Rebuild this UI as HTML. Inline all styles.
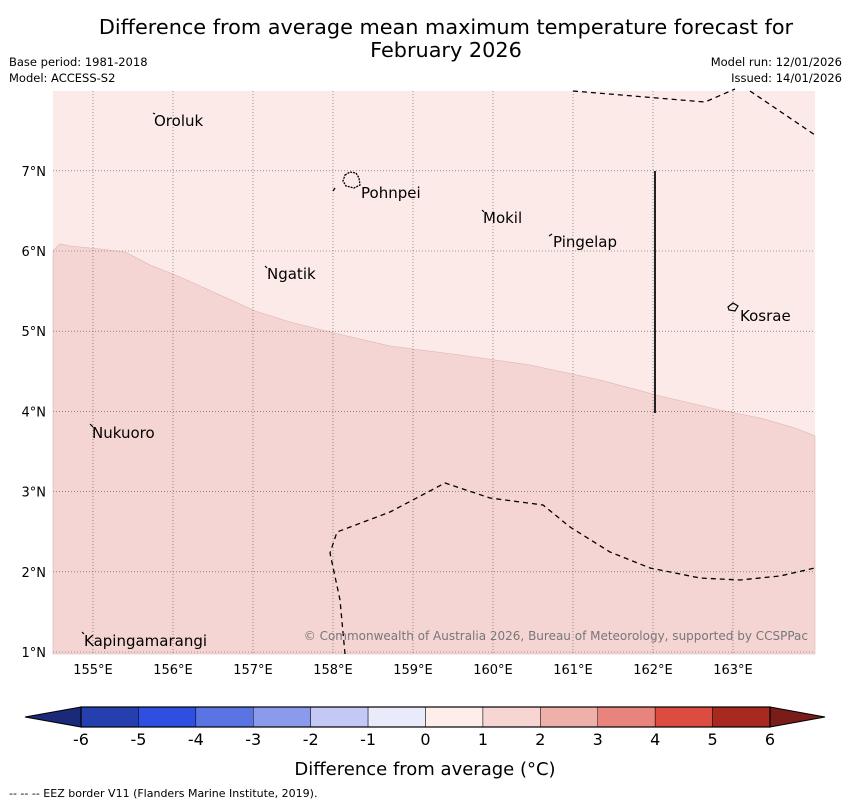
<!DOCTYPE html>
<html><head><meta charset="utf-8"><style>
body{margin:0;background:#fff;font-family:"DejaVu Sans","Liberation Sans",sans-serif;}
svg text{font-family:"DejaVu Sans","Liberation Sans",sans-serif;}
</style></head><body>
<svg width="850" height="804" viewBox="0 0 850 804" xmlns="http://www.w3.org/2000/svg">
<text x="446" y="34" font-size="20.8" text-anchor="middle">Difference from average mean maximum temperature forecast for</text>
<text x="446" y="57" font-size="20.8" text-anchor="middle">February 2026</text>
<text x="9" y="66" font-size="11.5">Base period: 1981-2018</text>
<text x="9" y="82" font-size="11.5">Model: ACCESS-S2</text>
<text x="842" y="66" font-size="11.5" text-anchor="end">Model run: 12/01/2026</text>
<text x="842" y="82" font-size="11.5" text-anchor="end">Issued: 14/01/2026</text>
<g id="map">
<rect x="53" y="91" width="762" height="563" fill="#fbeae8"/>
<path d="M53,251 L60,244 L70,246 L100,249 L125,252 L150,265 L180,277 L220,295 L255,311 L290,322 L330,332 L390,346 L460,355 L530,365 L600,380 L660,396 L720,410 L760,418 L795,428 L815,436 L815,654 L53,654 Z" fill="#f5d5d3" stroke="#d9b3b1" stroke-width="0.6"/>
<g id="grid" stroke="#555" stroke-width="0.6" stroke-dasharray="1,2"></g>
<path d="M573,91 L705,102 L735,89 M750,91 L815,135" fill="none" stroke="#000" stroke-width="1.3" stroke-dasharray="5,4"/>
<path d="M345,654 L340,600 L330,553 L337,532 L390,512 L445,483 L490,498 L543,505 L570,527 L610,552 L650,568 L700,578 L740,580 L780,576 L815,568" fill="none" stroke="#000" stroke-width="1.3" stroke-dasharray="5,4"/>
<line x1="333" y1="191" x2="335" y2="188" stroke="#000" stroke-width="1.3"/>
<line x1="655" y1="171" x2="655" y2="413" stroke="#222" stroke-width="2"/>
<path d="M345,175 L350,172 L356,173 L359,178 L360,185 L354,188 L346,186 L343,181 Z" fill="none" stroke="#000" stroke-width="1.3" stroke-dasharray="2,1"/>
<path d="M728,307 L733,303 L738,306 L735,311 L729,310 Z" fill="none" stroke="#000" stroke-width="1.2"/>
<g stroke="#000" stroke-width="1.2">
<line x1="153" y1="113" x2="155" y2="114"/><line x1="482" y1="210" x2="484" y2="212"/><line x1="549" y1="236" x2="552" y2="234"/>
<line x1="265" y1="266" x2="267" y2="268"/><line x1="90" y1="424" x2="93" y2="427"/><line x1="82" y1="632" x2="84" y2="634"/>
</g>
<g font-size="15" fill="#000">
<text x="154" y="126">Oroluk</text>
<text x="361" y="198">Pohnpei</text>
<text x="483" y="223">Mokil</text>
<text x="553" y="247">Pingelap</text>
<text x="267" y="279">Ngatik</text>
<text x="740" y="321">Kosrae</text>
<text x="92" y="438">Nukuoro</text>
<text x="84" y="646">Kapingamarangi</text>
</g>
<text x="808" y="640" font-size="12" fill="#777" text-anchor="end">© Commonwealth of Australia 2026, Bureau of Meteorology, supported by CCSPPac</text>
</g>
<g id="axes" font-size="13"></g>
<g id="cbar"></g>
<text x="425" y="775" font-size="18" text-anchor="middle">Difference from average (°C)</text>
<text x="9" y="797" font-size="11">--  --  -- EEZ border V11 (Flanders Marine Institute, 2019).</text>
</svg>
<script>
const lonTicks=[155,156,157,158,159,160,161,162,163];
const latTicks=[1,2,3,4,5,6,7];
const cbLevels=[-6,-5,-4,-3,-2,-1,0,1,2,3,4,5,6];
const cbColors=["#2540ae","#2f4fe0","#5a74e4","#8a9bec","#c3c9f4","#e9ebfb","#fdeeec","#f6d5d3","#efb0aa","#e8847c","#dc4c40","#a8291f"];
const ns="http://www.w3.org/2000/svg";
const xL=lon=>53+(lon-154.5)*80;
const yL=lat=>652-(lat-1)*80.2;
const grid=document.getElementById('grid'),axes=document.getElementById('axes');
function mk(t,a,p){const e=document.createElementNS(ns,t);for(const k in a)e.setAttribute(k,a[k]);p.appendChild(e);return e;}
lonTicks.forEach(l=>{const x=xL(l);
const g=mk('line',{x1:x,x2:x,y1:91,y2:654},grid);


const t=mk('text',{x:x,y:674,'text-anchor':'middle'},axes);t.textContent=l+'°E';

});
latTicks.forEach(l=>{const y=yL(l);
const g=mk('line',{x1:53,x2:815,y1:y,y2:y},grid);


const t=mk('text',{x:46,y:y+5,'text-anchor':'end'},axes);t.textContent=l+'°N';

});
const cb=document.getElementById('cbar');
const c0=81,c1=770,cy=707,ch=20,n=cbColors.length;
const xc=v=>c0+(v-cbLevels[0])/(cbLevels[n]-cbLevels[0])*(c1-c0);
let lt=mk('path',{d:`M${c0},${cy} L25,${cy+ch/2} L${c0},${cy+ch} Z`,fill:'#1a2a78',stroke:'#000','stroke-width':1},cb);


let rt=mk('path',{d:`M${c1},${cy} L825,${cy+ch/2} L${c1},${cy+ch} Z`,fill:'#7a1c18',stroke:'#000','stroke-width':1},cb);


cbColors.forEach((c,i)=>{const r=mk('rect',{x:xc(cbLevels[i]),y:cy,width:xc(cbLevels[i+1])-xc(cbLevels[i]),height:ch,fill:c,stroke:'#000','stroke-width':0.5},cb);

});
mk('rect',{x:c0,y:cy,width:c1-c0,height:ch,fill:'none',stroke:'#000','stroke-width':1.2},cb);
cbLevels.forEach(v=>{const t=mk('text',{x:xc(v),y:745,'text-anchor':'middle','font-size':16},cb);t.textContent=v;

});
</script>
</body></html>
